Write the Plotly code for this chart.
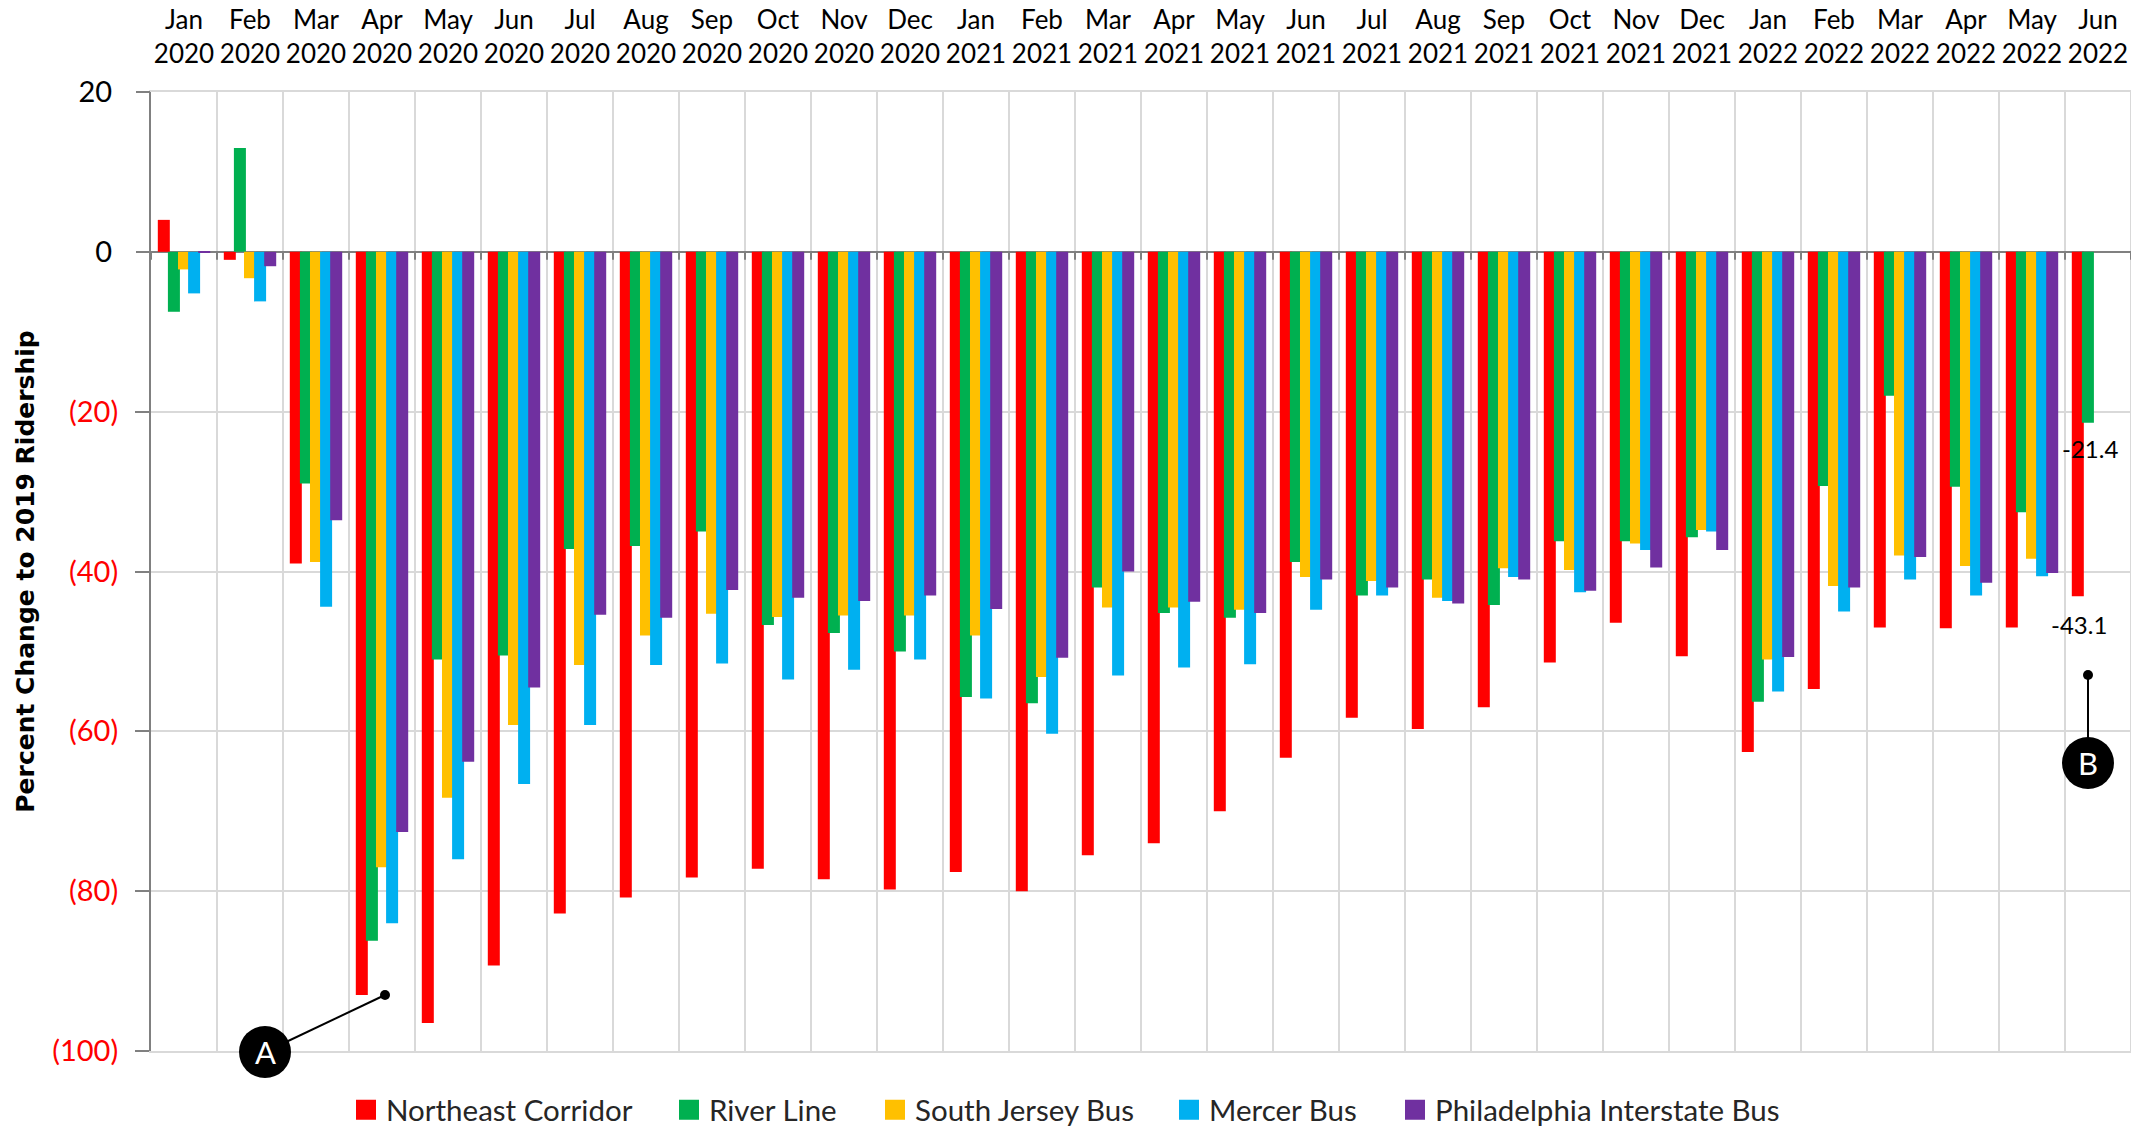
import plotly.graph_objects as go

months = ["Jan","Feb","Mar","Apr","May","Jun","Jul","Aug","Sep","Oct","Nov","Dec"]
categories = [f"{m}<br>{y}" for y in (2020, 2021) for m in months] + [f"{m}<br>2022" for m in months[:6]]

northeast_corridor = [4,-1,-39,-93,-96.5,-89.3,-82.8,-80.8,-78.3,-77.2,-78.5,-79.8,-77.6,-80,-75.5,-74,-70,-63.3,-58.3,-59.7,-57,-51.4,-46.4,-50.6,-62.6,-54.7,-47,-47.1,-47,-43.1]
river_line = [-7.5,13,-29,-86.2,-51,-50.5,-37.2,-36.8,-35,-46.7,-47.7,-50,-55.7,-56.5,-42,-45.2,-45.8,-38.8,-43,-41,-44.2,-36.2,-36.2,-35.7,-56.3,-29.3,-18,-29.4,-32.6,-21.4]
south_jersey_bus = [-2.2,-3.3,-38.8,-77,-68.3,-59.2,-51.7,-48,-45.3,-45.7,-45.5,-45.5,-48,-53.2,-44.5,-44.5,-44.8,-40.7,-41.2,-43.3,-39.6,-39.8,-36.5,-34.8,-51,-41.8,-38,-39.3,-38.4,None]
mercer_bus = [-5.2,-6.2,-44.4,-84,-76,-66.6,-59.2,-51.7,-51.5,-53.5,-52.3,-51,-55.9,-60.3,-53,-52,-51.6,-44.8,-43,-43.7,-40.7,-42.6,-37.3,-35,-55,-45,-41,-43,-40.6,None]
philadelphia_bus = [-0.1,-1.8,-33.6,-72.6,-63.8,-54.5,-45.4,-45.8,-42.3,-43.3,-43.7,-43,-44.7,-50.8,-40,-43.8,-45.2,-41,-42,-44,-41,-42.4,-39.5,-37.3,-50.7,-42,-38.2,-41.4,-40.2,None]

series = [
    ("Northeast Corridor", northeast_corridor, "#FF0000"),
    ("River Line", river_line, "#00B050"),
    ("South Jersey Bus", south_jersey_bus, "#FFC000"),
    ("Mercer Bus", mercer_bus, "#00B0F0"),
    ("Philadelphia Interstate Bus", philadelphia_bus, "#7030A0"),
]

red_ticks = [-100, -80, -60, -40, -20]
black_ticks = [0, 20]

W, H = 2147, 1127
L, R, T, B = 151, 16, 92, 76
PW, PH = W - L - R, H - T - B
FONT = "Lato"
def px(x): return (x - L) / PW
def py(y): return 1 - (y - T) / PH

fig = go.Figure()
BW, STEP = 0.182, 0.153
for i, (name, vals, color) in enumerate(series):
    fig.add_bar(x=categories, y=vals, name=name, marker_color=color, showlegend=False,
                marker_line_width=0, width=BW, offset=(i - 2) * STEP - BW / 2)

fig.add_trace(go.Scatter(x=[categories[0]], y=[None], yaxis="y2", showlegend=False, hoverinfo="skip"))

# legend keys: one separate legend per series, so that each entry sits where the reference has it
legend_centers = [366, 689, 895, 1189, 1415]
legends = {}
for i, (name, vals, color) in enumerate(series):
    key = "legend" if i == 0 else f"legend{i + 1}"
    fig.add_trace(go.Scatter(x=[categories[0]], y=[None], name=name, mode="markers", legend=key,
                             marker=dict(symbol="square", size=16, color=color, line=dict(color=color, width=4))))
    legends[key] = dict(orientation="h", x=(legend_centers[i] - 20) / W, xref="container", xanchor="left",
                        y=(H - 1110) / H, yref="container", yanchor="middle", itemwidth=30,
                        bgcolor="rgba(0,0,0,0)", font=dict(family=FONT, size=29.5, color="#262626"))

shapes = []
for i in range(len(categories) + 1):
    shapes.append(dict(type="line", xref="x", yref="y", x0=i - 0.5, x1=i - 0.5, y0=0, y1=-1,
                       line=dict(color="#808080", width=2), layer="above"))
shapes.append(dict(type="line", xref="x", yref="paper", x0=len(categories) - 0.5, x1=len(categories) - 0.5,
                   y0=0, y1=1, line=dict(color="#D9D9D9", width=2), layer="below"))

def callout(cx, cy, dx, dy, r=26):
    shapes.append(dict(type="line", xref="paper", yref="paper", x0=px(cx), y0=py(cy), x1=px(dx), y1=py(dy),
                       line=dict(color="black", width=2), layer="above"))
    shapes.append(dict(type="circle", xref="paper", yref="paper", x0=px(cx - r), x1=px(cx + r),
                       y0=py(cy + r), y1=py(cy - r), fillcolor="black", line_width=0, layer="above"))
    shapes.append(dict(type="circle", xref="paper", yref="paper", x0=px(dx - 5), x1=px(dx + 5),
                       y0=py(dy + 5), y1=py(dy - 5), fillcolor="black", line_width=0, layer="above"))

callout(265, 1052, 385, 995)
callout(2088, 763, 2088, 675)

annotations = [
    dict(x=px(265), y=py(1052), xref="paper", yref="paper", text="A", showarrow=False,
         xanchor="center", yanchor="middle", font=dict(family=FONT, size=31, color="white")),
    dict(x=px(2088), y=py(763), xref="paper", yref="paper", text="B", showarrow=False,
         xanchor="center", yanchor="middle", font=dict(family=FONT, size=31, color="white")),
    dict(x=categories[-1], y=river_line[-1], text=str(river_line[-1]), showarrow=False,
         xshift=-8, yshift=-26, font=dict(family=FONT, size=24, color="black")),
    dict(x=categories[-1], y=northeast_corridor[-1], text=str(northeast_corridor[-1]), showarrow=False,
         xshift=-19, yshift=-28, font=dict(family=FONT, size=24, color="black")),
]

fig.update_layout(
    width=W, height=H, autosize=False,
    margin=dict(l=L, r=R, t=T, b=B, pad=0, autoexpand=False),
    paper_bgcolor="white", plot_bgcolor="white",
    barmode="overlay",
    shapes=shapes, annotations=annotations,
    showlegend=True, hovermode=False,
    xaxis=dict(type="category", side="top", tickson="boundaries", categoryorder="array", automargin=False,
               categoryarray=categories, tickangle=0, ticks="", showgrid=True, gridcolor="#D9D9D9",
               gridwidth=2, showline=True, mirror=True, linecolor="#D9D9D9", linewidth=2,
               zeroline=False, range=[-0.5, 29.5],
               tickfont=dict(family=FONT, size=26, color="black"), ticklabelstandoff=17),
    yaxis=dict(range=[-100, 20], tickmode="array", tickvals=red_ticks, automargin=False,
               ticktext=[f"({-v})" for v in red_ticks], tickfont=dict(family=FONT, size=29, color="#FF0000"),
               gridcolor="#D9D9D9", gridwidth=2, showgrid=True, ticks="outside", ticklen=14, tickcolor="#808080",
               tickwidth=2, showline=True, linecolor="#808080", linewidth=2,
               zeroline=True, zerolinecolor="#808080", zerolinewidth=2, ticklabelstandoff=11,
               title=dict(text="Percent Change to 2019 Ridership", standoff=10,
                          font=dict(family="DejaVu Sans", size=25, color="black", weight="bold"))),
    yaxis2=dict(range=[-100, 20], overlaying="y", side="left", tickmode="array", tickvals=black_ticks, automargin=False,
                ticktext=[str(v) for v in black_ticks], tickfont=dict(family=FONT, size=29, color="black"),
                showgrid=True, gridcolor="#D9D9D9", gridwidth=2, ticks="outside", ticklen=14, tickcolor="#808080", tickwidth=2,
                showline=False, zeroline=False, ticklabelstandoff=18),
    **legends,
)

fig.write_html("out.html", config=dict(displayModeBar=False), post_script="document.body.style.margin='0';")
